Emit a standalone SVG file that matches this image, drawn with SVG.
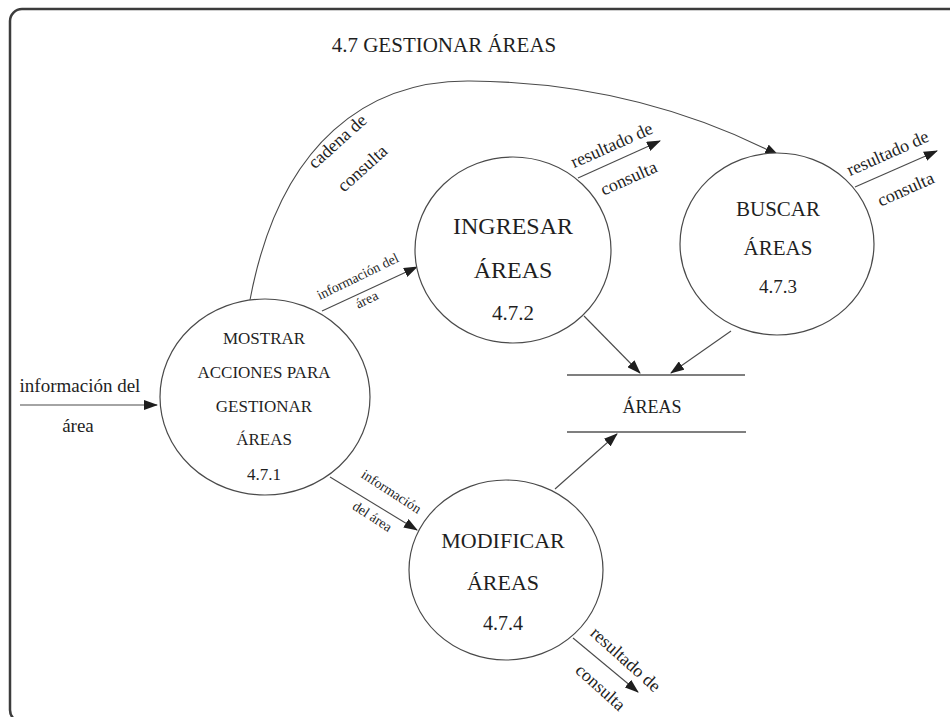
<svg xmlns="http://www.w3.org/2000/svg" width="950" height="717" viewBox="0 0 950 717" font-family="'Liberation Serif', 'Times New Roman', serif">
  <style>
    text { font-family: "Liberation Serif", "Times New Roman", serif; fill: #1f1f1f; }
    .frame { fill: none; stroke: #3c3c3c; stroke-width: 2.5; }
    .proc { fill: #ffffff; stroke: #4a4a4a; stroke-width: 1.2; }
    .flow { fill: none; stroke: #4a4a4a; stroke-width: 1.1; marker-end: url(#arrow); }
    .store { stroke: #555; stroke-width: 1.6; }
    .t-title { font-size: 21px; }
    .t-edge { font-size: 18px; }
    .t-small { font-size: 14px; }
    .t-in { font-size: 19px; }
  </style>
  <defs>
    <marker id="arrow" markerWidth="14" markerHeight="10" refX="13" refY="5" orient="auto" markerUnits="userSpaceOnUse">
      <path d="M0,0 L14,5 L0,10 Z" fill="#1e1e1e"/>
    </marker>
  </defs>

  <rect width="950" height="717" fill="#ffffff"/>
  <!-- outer frame, right and bottom edges run past the page -->
  <rect class="frame" x="10" y="9" width="960" height="713" rx="12" ry="12"/>

  <text class="t-title" x="444" y="52" text-anchor="middle">4.7 GESTIONAR ÁREAS</text>

  <!-- connectors -->
  <g id="flows">
    <line class="flow" x1="20" y1="405" x2="157" y2="405"/>
    <path class="flow" d="M 250 300 C 280 140, 370 80, 470 81 C 600 82, 700 115, 778 155"/>
    <line class="flow" x1="322" y1="311" x2="417" y2="267"/>
    <line class="flow" x1="578" y1="178" x2="660" y2="141"/>
    <line class="flow" x1="855" y1="187" x2="937" y2="151"/>
    <line class="flow" x1="330" y1="477" x2="417" y2="530"/>
    <line class="flow" x1="573" y1="638" x2="638" y2="692"/>
    <line class="flow" x1="584" y1="316" x2="640" y2="373"/>
    <line class="flow" x1="731" y1="331" x2="671" y2="373"/>
    <line class="flow" x1="555" y1="489" x2="617" y2="434"/>
  </g>

  <!-- flow labels -->
  <g id="flow-labels">
    <text class="t-in" x="80" y="392" text-anchor="middle">información del</text>
    <text class="t-in" x="78" y="432" text-anchor="middle">área</text>

    <text class="t-edge" text-anchor="middle" transform="translate(338,142) rotate(-42)" y="5">cadena de</text>
    <text class="t-edge" text-anchor="middle" transform="translate(363,169) rotate(-42)" y="5">consulta</text>

    <text class="t-small" text-anchor="middle" transform="translate(358,277) rotate(-26)" y="4">información del</text>
    <text class="t-small" text-anchor="middle" transform="translate(367,300) rotate(-26)" y="4">área</text>

    <text class="t-edge" text-anchor="middle" transform="translate(612,146) rotate(-24)" y="5">resultado de</text>
    <text class="t-edge" text-anchor="middle" transform="translate(629,179) rotate(-24)" y="5">consulta</text>

    <text class="t-edge" text-anchor="middle" transform="translate(888,154) rotate(-24)" y="5">resultado de</text>
    <text class="t-edge" text-anchor="middle" transform="translate(906,190) rotate(-24)" y="5">consulta</text>

    <text class="t-small" text-anchor="middle" transform="translate(391,492) rotate(33)" y="4">información</text>
    <text class="t-small" text-anchor="middle" transform="translate(372,517) rotate(33)" y="4">del área</text>

    <text class="t-edge" text-anchor="middle" transform="translate(625,660) rotate(42)" y="5">resultado de</text>
    <text class="t-edge" text-anchor="middle" transform="translate(600,688) rotate(42)" y="5">consulta</text>
  </g>

  <!-- processes -->
  <g id="p471">
    <ellipse class="proc" cx="265" cy="397" rx="105" ry="98"/>
    <g font-size="17" text-anchor="middle">
      <text x="264" y="344">MOSTRAR</text>
      <text x="264" y="378">ACCIONES PARA</text>
      <text x="264" y="412">GESTIONAR</text>
      <text x="264" y="445">ÁREAS</text>
      <text x="264" y="480">4.7.1</text>
    </g>
  </g>

  <g id="p472">
    <ellipse class="proc" cx="513" cy="250" rx="98" ry="93"/>
    <g font-size="24" text-anchor="middle">
      <text x="513" y="234">INGRESAR</text>
      <text x="513" y="278">ÁREAS</text>
      <text x="513" y="320" font-size="21">4.7.2</text>
    </g>
  </g>

  <g id="p473">
    <ellipse class="proc" cx="777" cy="244" rx="97" ry="91"/>
    <g font-size="21" text-anchor="middle">
      <text x="778" y="216">BUSCAR</text>
      <text x="778" y="255">ÁREAS</text>
      <text x="778" y="293" font-size="19">4.7.3</text>
    </g>
  </g>

  <g id="p474">
    <ellipse class="proc" cx="506" cy="570" rx="97" ry="90"/>
    <g font-size="22" text-anchor="middle">
      <text x="503" y="548">MODIFICAR</text>
      <text x="503" y="590">ÁREAS</text>
      <text x="503" y="630" font-size="20">4.7.4</text>
    </g>
  </g>

  <!-- data store -->
  <g id="store-areas">
    <line class="store" x1="567" y1="375" x2="745" y2="375"/>
    <line class="store" x1="567" y1="432" x2="746" y2="432"/>
    <text x="652" y="413" font-size="18" text-anchor="middle">ÁREAS</text>
  </g>
</svg>
